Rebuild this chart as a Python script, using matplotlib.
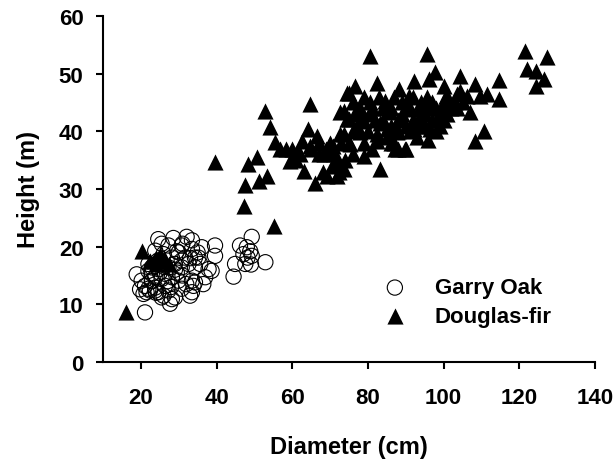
import matplotlib
matplotlib.use("Agg")
import matplotlib.pyplot as plt

plt.rcParams['font.family'] = ['Liberation Sans', 'DejaVu Sans']
plt.rcParams['font.weight'] = 'bold'

# Garry Oak: diameter (cm), height (m)
oak_d = [49.3, 46.2, 48.0, 48.9, 47.1, 49.3, 44.9, 47.6, 49.1, 52.9, 44.5, 48.2,
         24.6, 28.6, 32.1, 33.5, 39.6, 36.1, 25.5, 27.3, 30.8, 33.5, 29.5, 23.8,
         39.6, 35.2, 31.7, 28.2, 24.6, 22.0, 18.9, 22.0, 24.6, 27.3, 30.8, 34.3,
         37.9, 38.7, 20.2, 22.9, 25.5, 28.2, 33.5, 21.1, 23.8, 26.4, 33.9, 21.5,
         25.5, 28.2, 33.5, 33.0, 21.1, 27.7, 23.8, 37.0, 22.9, 23.8, 22.4, 26.4,
         29.5, 30.8, 32.6, 19.8, 20.7, 24.6, 27.3, 30.8, 34.3, 36.5, 29.9, 26.0,
         29.0, 34.3, 35.7, 22.9, 29.0,
         23.0, 25.0, 26.0, 27.0, 28.0, 29.0, 31.0, 32.0, 24.0, 26.0, 30.0, 33.0,
         35.0, 31.0, 22.0]
oak_h = [21.7, 20.2, 19.9, 19.2, 18.7, 18.4, 17.0, 17.0, 16.9, 17.3, 14.8, 18.1,
         21.3, 21.5, 21.7, 21.1, 20.2, 19.9, 20.5, 20.2, 20.2, 19.6, 19.2, 19.3,
         18.4, 18.1, 18.1, 18.1, 17.6, 17.0, 15.2, 15.8, 16.1, 16.4, 16.4, 16.4,
         16.1, 15.8, 14.1, 14.1, 14.4, 14.7, 14.1, 13.2, 12.9, 13.2, 13.2, 12.1,
         11.2, 10.9, 12.1, 11.5, 8.6, 10.1, 12.4, 14.7, 15.3, 14.7, 12.4, 15.3,
         15.5, 17.6, 17.0, 12.6, 11.8, 12.1, 12.4, 12.7, 13.8, 13.5, 14.1, 18.7,
         17.0, 18.1, 17.0, 16.4, 11.2,
         14.0, 15.5, 16.5, 14.0, 13.0, 16.0, 15.0, 13.5, 12.0, 11.5, 19.0, 18.0,
         19.0, 20.5, 12.7]

# Douglas-fir: diameter (cm), height (m)
fir_d = [16.0, 20.2, 23.5, 24.0, 25.0, 26.0, 26.5, 27.5, 24.0, 22.5,
         39.6, 52.9, 54.2, 55.5, 50.7, 48.4, 53.3, 51.1, 47.6, 47.3, 55.1,
         64.8, 58.4, 59.5, 62.6, 64.3, 63.0, 66.1, 66.5, 70.1, 69.2, 70.9,
         72.7, 74.5, 73.6, 72.3, 68.3, 61.2, 64.8, 56.8, 74.5,
         80.5, 95.6, 82.4, 76.7, 74.9, 88.1, 92.1, 96.1, 97.8, 100.0, 80.6,
         84.6, 90.8, 95.6, 73.6, 77.1, 80.6, 85.9, 90.3, 93.4, 99.2, 74.9,
         78.9, 83.3, 89.0, 93.9, 98.3, 72.7, 78.0, 82.4, 87.7, 92.1, 96.5,
         70.9, 75.3, 78.9, 87.2, 89.9, 83.3, 73.6, 71.8, 82.4, 85.0, 100.5,
         121.6, 127.2, 122.1, 124.3, 126.5, 124.3, 114.6, 114.6, 104.4, 108.4,
         111.5, 107.1, 110.6, 108.4, 100.9, 103.6, 106.2, 103.6, 100.0, 109.7,
         104.4,
         84.0, 86.0, 87.0, 88.0, 89.0, 91.0, 92.0, 93.0, 94.0, 95.0, 96.0,
         97.0, 98.0, 99.0, 101.0, 102.0, 96.0, 88.0, 90.0,
         60.0, 61.0, 62.0, 65.0, 67.0, 68.0, 70.0, 71.0, 75.0, 76.0, 77.0,
         76.0, 78.0, 79.0, 81.0, 83.0, 84.0, 86.0, 87.0, 88.0, 89.0, 90.0,
         91.0, 92.0, 93.0, 94.0, 95.0, 97.0, 98.0, 99.0, 100.0, 101.0, 103.0,
         105.0, 80.0, 82.0, 85.0, 86.0, 77.0, 79.0, 81.0, 73.0, 71.0, 69.0,
         67.0, 72.0, 74.0, 76.0, 78.0]
fir_h = [8.6, 19.3, 17.5, 18.0, 18.5, 18.0, 17.5, 17.0, 17.0, 17.5,
         34.6, 43.6, 40.8, 38.1, 35.5, 34.3, 32.2, 31.4, 30.7, 27.0, 23.5,
         44.7, 36.9, 34.9, 38.4, 40.4, 33.2, 31.1, 39.2, 37.8, 32.3, 34.3,
         43.3, 46.7, 39.5, 32.9, 36.1, 36.3, 37.5, 36.9, 42.1,
         53.1, 53.4, 48.3, 47.8, 46.6, 47.4, 48.8, 49.0, 50.2, 47.9, 45.0,
         45.3, 46.2, 45.9, 43.6, 43.9, 43.0, 43.3, 43.8, 43.8, 44.1, 42.1,
         41.8, 41.5, 42.1, 41.5, 42.1, 39.5, 39.8, 39.5, 39.8, 40.4, 40.4,
         37.5, 37.8, 35.7, 36.9, 36.9, 33.4, 33.4, 32.3, 38.4, 40.4, 46.2,
         53.9, 52.8, 50.8, 50.5, 49.0, 47.9, 48.9, 45.6, 49.6, 48.2,
         46.4, 43.3, 40.1, 38.4, 46.2, 46.4, 46.2, 44.1, 44.4, 46.2,
         47.0,
         44.0, 41.0, 38.0, 42.0, 45.0, 40.0, 42.0, 39.0, 43.0, 41.0, 44.0,
         42.0, 40.0, 43.0, 45.0, 44.0, 38.5, 37.0, 37.0,
         37.0, 35.0, 36.0, 37.0, 36.0, 33.0, 38.0, 34.0, 38.0, 36.0, 43.0,
         45.0, 44.0, 46.0, 44.0, 46.0, 42.0, 44.0, 46.0, 40.0, 43.0, 41.0,
         44.0, 46.0, 41.0, 45.0, 43.0, 45.0, 44.0, 41.0, 42.0, 43.0, 45.0,
         45.0, 40.0, 42.0, 39.0, 38.0, 41.0, 38.0, 37.0, 38.0, 36.0, 37.0,
         38.0, 35.0, 35.0, 40.0, 42.0]

fig = plt.figure(figsize=(6.16, 4.6), dpi=100)
ax = fig.add_axes([0.1672, 0.2109, 0.7987, 0.7522])

ax.scatter(oak_d, oak_h, s=120, marker='o', facecolors='none', edgecolors='black',
           linewidths=0.8, label='Garry Oak', zorder=2)
ax.scatter(fir_d, fir_h, s=135, marker='^', color='black', linewidths=0,
           label='Douglas-fir', zorder=3)

ax.set_xlim(10, 140)
ax.set_ylim(0, 60)
ax.set_xticks(range(20, 141, 20))
ax.set_yticks(range(0, 61, 10))
for s in ['top', 'right']:
    ax.spines[s].set_visible(False)
for s in ['left', 'bottom']:
    ax.spines[s].set_linewidth(1.5)
ax.tick_params(width=1.5, length=5, labelsize=16, pad=9)
ax.tick_params(axis='x', pad=13)

ax.set_xlabel('Diameter (cm)', fontsize=17, fontweight='bold')
ax.set_ylabel('Height (m)', fontsize=17, fontweight='bold')
ax.xaxis.set_label_coords(0.5, -0.21)
ax.yaxis.set_label_coords(-0.128, 0.5)

ax.legend(loc='center left', bbox_to_anchor=(0.53, 0.1725), frameon=False,
          fontsize=16, handletextpad=0.8, labelspacing=0.35, borderaxespad=0,
          scatterpoints=1)

fig.savefig('out.png', dpi=100)
